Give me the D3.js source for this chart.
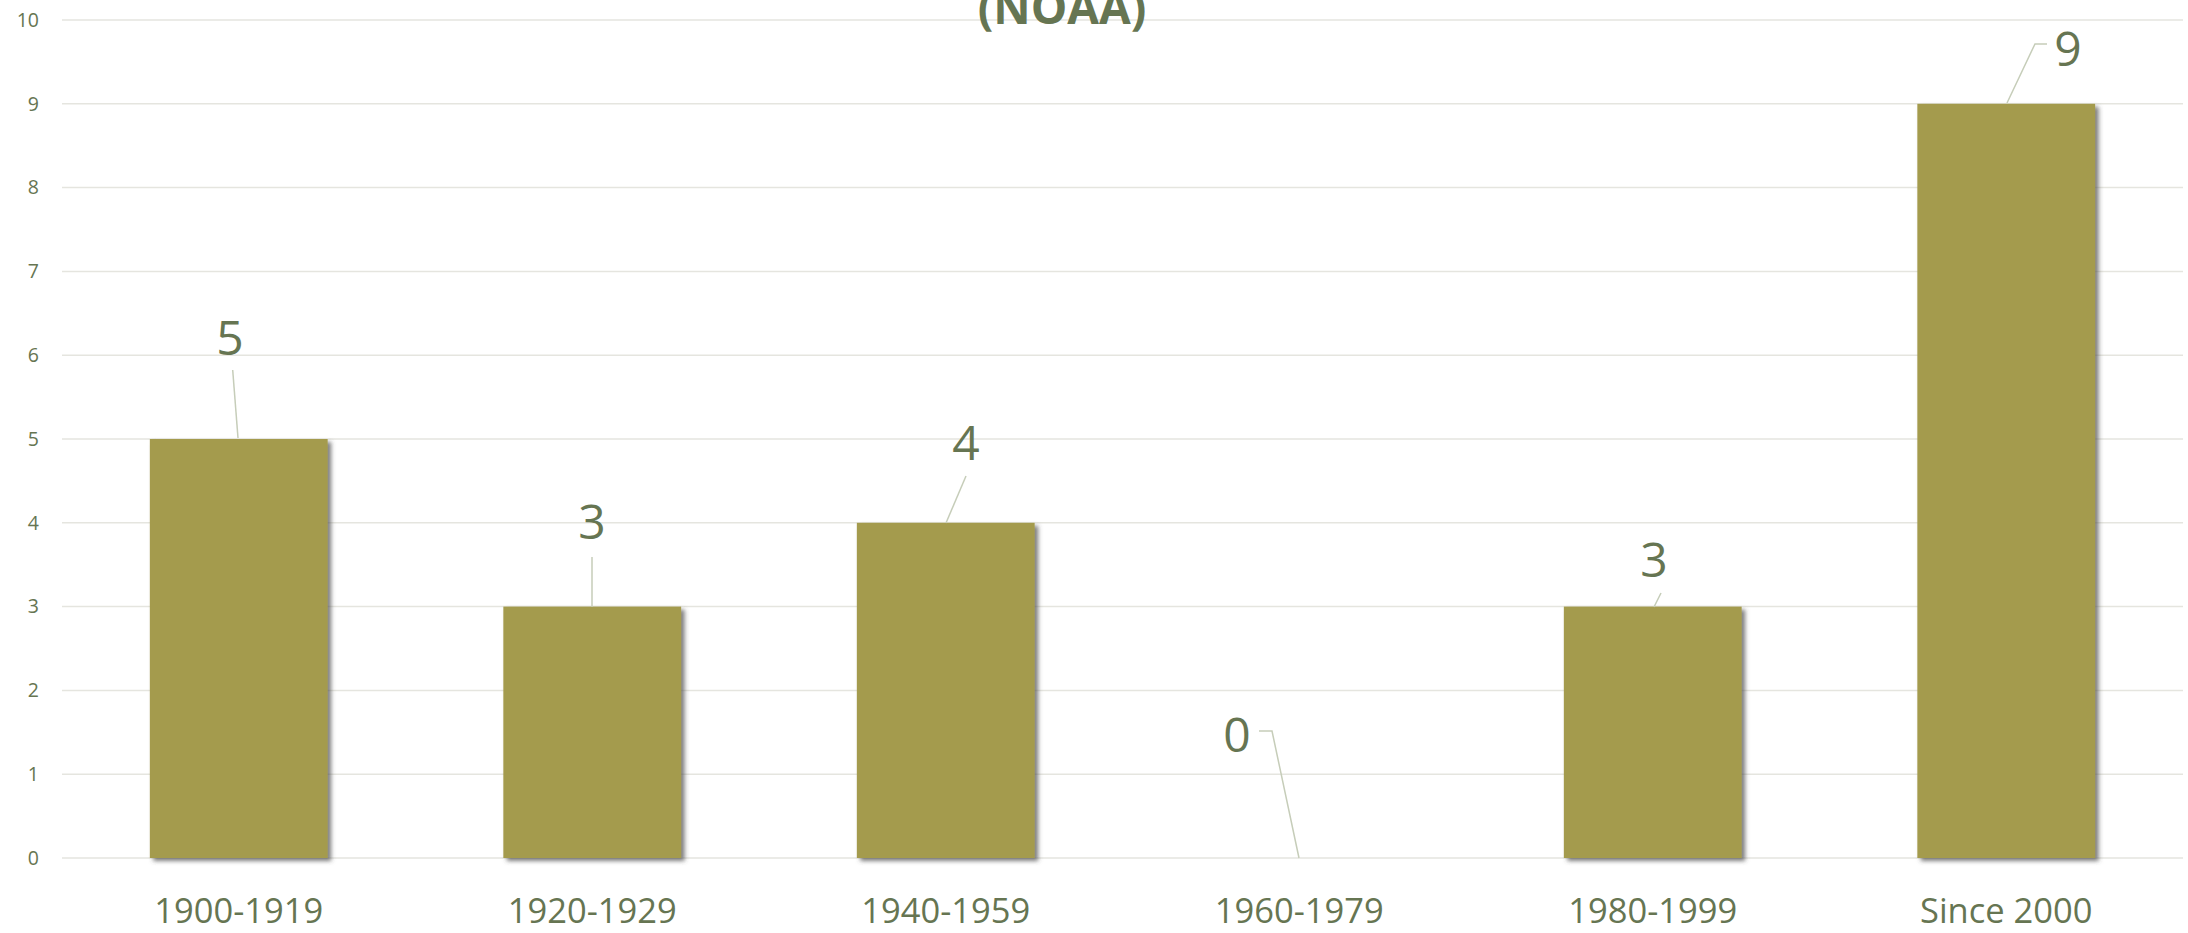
<!DOCTYPE html>
<html><head><meta charset="utf-8">
<script src="https://cdn.jsdelivr.net/npm/d3@7"></script>
<style>html,body{margin:0;padding:0;background:#fff;}svg{display:block;}</style>
</head><body>
<script>
const categories = ["1900-1919","1920-1929","1940-1959","1960-1979","1980-1999","Since 2000"];
const values = [5,3,4,0,3,9];
const yTicks = [0,1,2,3,4,5,6,7,8,9,10];
const titleText = "(NOAA)";

const W = 2188, H = 933;
const svg = d3.select("body").append("svg").attr("width", W).attr("height", H);
const defs = svg.append("defs");
const f = defs.append("filter").attr("id","sh").attr("x","-10%").attr("y","-10%").attr("width","130%").attr("height","130%");
f.append("feDropShadow").attr("dx",3.5).attr("dy",3).attr("stdDeviation",2).attr("flood-color","#444").attr("flood-opacity",0.7);

const x = d3.scaleBand().domain(categories).range([62, 2183]).paddingInner(0.497).paddingOuter(0.2485);
const y = d3.scaleLinear().domain([0,10]).range([858, 20]);
const txt = "#667552";

// gridlines
svg.append("g").selectAll("line").data(yTicks).join("line")
  .attr("x1",62).attr("x2",2183).attr("y1",d=>y(d)).attr("y2",d=>y(d))
  .attr("stroke","#E5E5DF").attr("stroke-width",1.5);

// y axis labels
const yAxis = d3.axisLeft(y).tickValues(yTicks).tickSize(0).tickPadding(0);
const ga = svg.append("g").attr("transform","translate(39,0)").call(yAxis);
ga.select(".domain").remove();
ga.selectAll("text").attr("fill",txt).attr("font-family","Open Sans").attr("font-size",19.5);

// bars
svg.append("g").selectAll("rect").data(values).join("rect")
  .attr("x",(d,i)=>x(categories[i])).attr("width",x.bandwidth())
  .attr("y",d=>y(d)).attr("height",d=>y(0)-y(d))
  .attr("fill","#A49B4D").attr("filter","url(#sh)");

// x axis labels
const xAxis = d3.axisBottom(x).tickSize(0).tickPadding(0);
const gx = svg.append("g").attr("transform","translate(0,923)").call(xAxis);
gx.select(".domain").remove();
gx.selectAll("text").attr("dy",0).attr("fill",txt).attr("font-family","Open Sans").attr("font-size",34.5);

// leader lines
const leaders = [
  [[232.7,370],[238,438]],
  [[592,557],[592,607]],
  [[966,476],[946,523]],
  [[1259,731],[1272,731],[1299,858]],
  [[1661,593],[1654,607]],
  [[2047,44],[2035,44],[2007,103]]
];
svg.append("g").selectAll("path").data(leaders).join("path")
  .attr("d",d=>d3.line()(d)).attr("fill","none").attr("stroke","#C6CDB9").attr("stroke-width",1.5);

// value labels
const lblPos = [[230,336],[592,520],[966,441],[1237,733],[1654,558],[2068,47]];
svg.append("g").selectAll("text").data(values).join("text")
  .attr("x",(d,i)=>lblPos[i][0]).attr("y",(d,i)=>lblPos[i][1])
  .attr("text-anchor","middle").attr("dominant-baseline","central")
  .attr("fill",txt).attr("font-family","Open Sans").attr("font-size",48)
  .text(d=>d);

// title (partially cut off at top)
svg.append("text").attr("x",1062).attr("y",24).attr("text-anchor","middle")
  .attr("fill",txt).attr("font-family","Open Sans").attr("font-weight","bold").attr("font-size",46)
  .text(titleText);
</script>
</body></html>
